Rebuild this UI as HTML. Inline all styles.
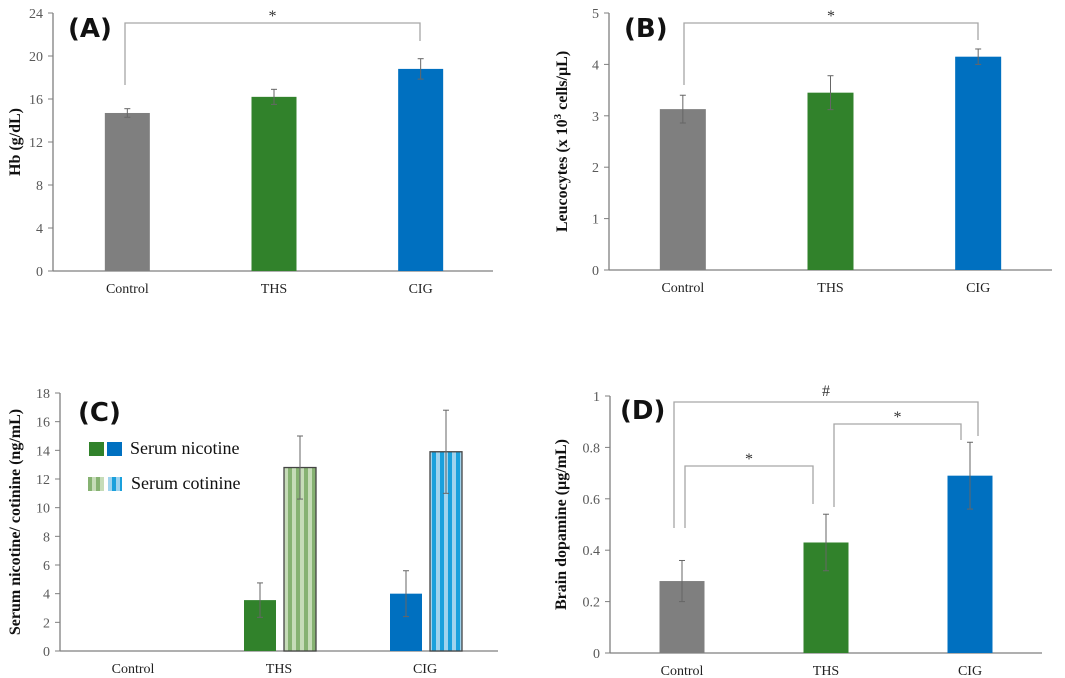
<!DOCTYPE html>
<html><head><meta charset="utf-8"><style>
body{margin:0;background:#fff;}
svg{display:block;font-family:"Liberation Serif",serif;}
.tick{fill:#595959;font-size:14px;}
.cat{fill:#222;font-size:14px;}
.ttl{font-weight:bold;font-size:16px;fill:#111;}
.pl{font-family:"DejaVu Sans","Liberation Sans",sans-serif;font-weight:bold;font-size:26px;fill:#111;}
</style></head><body>
<svg id="chart" width="1065" height="678" viewBox="0 0 1065 678">
<defs>
<pattern id="pg" width="8" height="10" patternUnits="userSpaceOnUse"><rect width="8" height="10" fill="#c6dcb8"/><rect x="0" width="4" height="10" fill="#86b272"/></pattern>
<pattern id="pb" width="8" height="10" patternUnits="userSpaceOnUse"><rect width="8" height="10" fill="#9fd3ee"/><rect x="0" width="4" height="10" fill="#1aa0dc"/></pattern>
</defs>
</svg>
<script>
const cats=["Control","THS","CIG"];
const hbVals=[14.7,16.2,18.8];
const hbErr=[0.4,0.7,0.95];
const hbTicks=[0,4,8,12,16,20,24];
const leuVals=[3.13,3.45,4.15];
const leuErr=[0.27,0.33,0.15];
const leuTicks=[0,1,2,3,4,5];
const nicVals=[0,3.55,4.0];
const nicErr=[0,1.2,1.6];
const cotVals=[0,12.8,13.9];
const cotErr=[0,2.2,2.9];
const cTicks=[0,2,4,6,8,10,12,14,16,18];
const dopVals=[0.28,0.43,0.69];
const dopErr=[0.08,0.11,0.13];
const dTicks=["0","0.2","0.4","0.6","0.8","1"];
const colors=["#7f7f7f","#31822b","#0070c0"];
const NS="http://www.w3.org/2000/svg";
const svg=document.getElementById('chart');
function mk(t,a,p){const e=document.createElementNS(NS,t);for(const k in a)e.setAttribute(k,a[k]);(p||svg).appendChild(e);return e;}
function panel(o){
 const g=mk('g',{});
 
 
 const y=v=>o.y1-(v-o.min)/(o.max-o.min)*(o.y1-o.y0);
 const x=i=>o.x0+(o.x1-o.x0)*(i+0.5)/3+o.shift;
 mk('line',{x1:o.x0,y1:o.y0,x2:o.x0,y2:o.y1,stroke:'#7f7f7f','stroke-width':1.3},g);
 mk('line',{x1:o.x0,y1:o.y1,x2:o.x1,y2:o.y1,stroke:'#7f7f7f','stroke-width':1.3},g);
 o.ticks.forEach(t=>{const v=parseFloat(t);mk('line',{x1:o.x0-5,x2:o.x0,y1:y(v),y2:y(v),stroke:'#7f7f7f'},g);
  const tx=mk('text',{x:o.x0-10,y:y(v)+5,'text-anchor':'end',class:'tick'},g);tx.textContent=t;
  
  });
 cats.forEach((c,i)=>{const tx=mk('text',{x:o.x0+(o.x1-o.x0)*(i+0.5)/3+o.labShift,y:o.y1+22,'text-anchor':'middle',class:'cat'},g);tx.textContent=c;
  
  });
 o.series.forEach(s=>{
  s.vals.forEach((v,i)=>{if(!v)return;
   const cx=x(i)+s.off;
   const r=mk('rect',{x:cx-s.w/2,y:y(v),width:s.w,height:y(0)-y(v),fill:s.fill?s.fill(i):colors[i],stroke:s.stroke?s.stroke:'none','stroke-width':1.3},g);
   
   
   const e=s.err[i];
   mk('line',{x1:cx,x2:cx,y1:y(v+e),y2:y(v-e),stroke:'#666','stroke-width':1},g);
   mk('line',{x1:cx-3,x2:cx+3,y1:y(v+e),y2:y(v+e),stroke:'#666'},g);
   mk('line',{x1:cx-3,x2:cx+3,y1:y(v-e),y2:y(v-e),stroke:'#666'},g);
  });
 });
 const tt=mk('text',{transform:`translate(${o.tx},${(o.y0+o.y1)/2}) rotate(-90)`,'text-anchor':'middle',class:'ttl'},g);
 tt.innerHTML=o.title;
 
 
 const pl=mk('text',{x:o.plx,y:o.ply,class:'pl'},g);pl.textContent=o.label;
 
 
 (o.br||[]).forEach(b=>{
  mk('polyline',{points:`${b[0]},${b[3]} ${b[0]},${b[2]} ${b[1]},${b[2]} ${b[1]},${b[4]}`,fill:'none',stroke:'#a6a6a6','stroke-width':1.3},g);
  const st=mk('text',{x:(b[0]+b[1])/2,y:b[2]-(b[5]=='#'?6:2),'text-anchor':'middle',style:'font-size:16px;fill:#333'},g);st.textContent=b[5];
  
  
 });
}
panel({name:'panel-a-hb',x0:53,x1:493,y0:13,y1:271,min:0,max:24,ticks:hbTicks.map(String),shift:1,labShift:1,
 series:[{key:'hb',vals:hbVals,err:hbErr,w:45,off:0}],tx:20,title:'Hb (g/dL)',label:'(A)',plx:68,ply:37,
 br:[[125,420,23,85,41,'*']]});
panel({name:'panel-b-leucocytes',x0:609,x1:1052,y0:13,y1:270,min:0,max:5,ticks:leuTicks.map(String),shift:0,labShift:0,
 series:[{key:'leu',vals:leuVals,err:leuErr,w:46,off:0}],tx:567,title:'Leucocytes (x 10<tspan dy="-6" font-size="11">3</tspan><tspan dy="6"> cells/µL)</tspan>',label:'(B)',plx:624,ply:37,
 br:[[684,978,23,85,40,'*']]});
panel({name:'panel-c-nicotine-cotinine',x0:60,x1:498,y0:393,y1:651,min:0,max:18,ticks:cTicks.map(String),shift:0,labShift:0,
 series:[{key:'nicotine',vals:nicVals,err:nicErr,w:32,off:-19},
  {key:'cotinine',vals:cotVals,err:cotErr,w:32,off:21,fill:i=>i==1?'url(#pg)':'url(#pb)',stroke:'#444'}],
 tx:20,title:'Serum nicotine/ cotinine (ng/mL)',label:'(C)',plx:78,ply:421});
panel({name:'panel-d-dopamine',x0:610,x1:1042,y0:396,y1:653,min:0,max:1,ticks:dTicks,shift:0,labShift:0,
 series:[{key:'dopamine',vals:dopVals,err:dopErr,w:45,off:0}],tx:566,title:'Brain dopamine (µg/mL)',label:'(D)',plx:620,ply:419,
 br:[[674,978,402,528,436,'#'],[685,813,466,528,504,'*'],[834,961,424,507,440,'*']]});
const lg=mk('g',{});


mk('rect',{x:89,y:442,width:15,height:14,fill:colors[1]},lg);
mk('rect',{x:107,y:442,width:15,height:14,fill:colors[2]},lg);
mk('rect',{x:88,y:477,width:16,height:14,fill:'url(#pg)'},lg);
mk('rect',{x:108,y:477,width:14,height:14,fill:'url(#pb)'},lg);
const l1=mk('text',{x:130,y:454,style:'font-size:18px;fill:#111'},lg);l1.textContent='Serum nicotine';


const l2=mk('text',{x:131,y:489,style:'font-size:18px;fill:#111'},lg);l2.textContent='Serum cotinine';


</script>
</body></html>
